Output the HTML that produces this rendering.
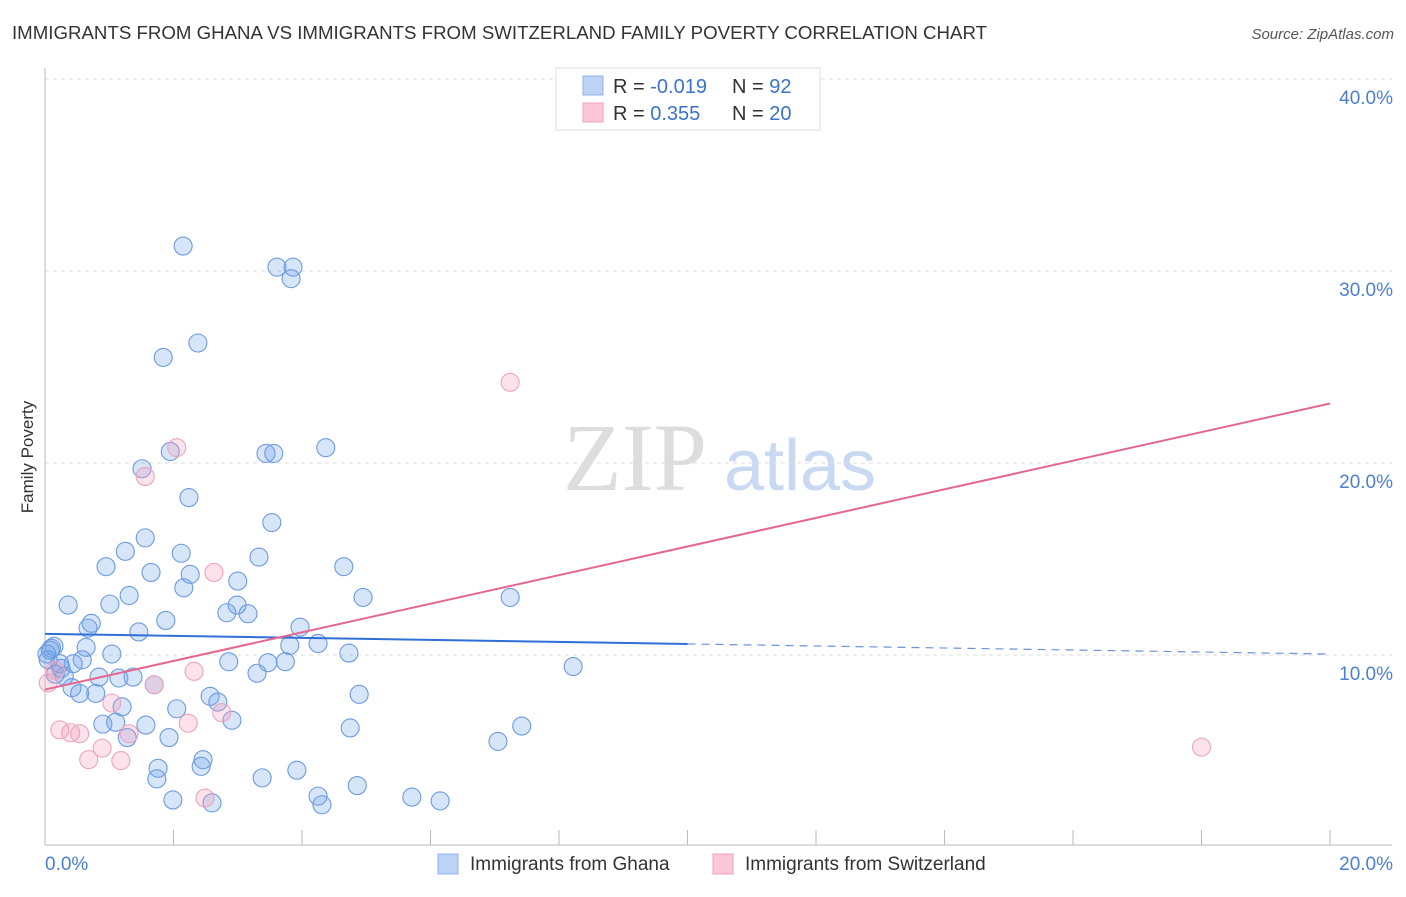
<!DOCTYPE html>
<html><head><meta charset="utf-8"><style>
body{margin:0;background:#fff;font-family:"Liberation Sans",sans-serif;}
svg text{font-family:"Liberation Sans",sans-serif;}
</style></head><body>
<svg width="1406" height="892" id="chart">
<text x="12" y="39" font-size="18" fill="#333" textLength="975" lengthAdjust="spacingAndGlyphs">IMMIGRANTS FROM GHANA VS IMMIGRANTS FROM SWITZERLAND FAMILY POVERTY CORRELATION CHART</text>
<text x="1394" y="39" font-size="15" fill="#555" font-style="italic" text-anchor="end">Source: ZipAtlas.com</text>
<text x="33" y="457" font-size="17" fill="#333" text-anchor="middle" transform="rotate(-90 33 457)">Family Poverty</text>
<g>
<text x="635" y="490" font-size="96" fill="#ddd" text-anchor="middle" font-family="Liberation Serif" style="font-family:'Liberation Serif',serif">ZIP</text>
<text x="800" y="490" font-size="72" fill="#c9d9f2" text-anchor="middle">atlas</text>
</g>
<g id="grid"></g><g id="axes"></g><g id="pts"></g><g id="trend"></g>
<g>
<rect x="556" y="68" width="264" height="62" fill="#fff" stroke="#ddd"/>
<rect x="583" y="76" width="20" height="19" fill="#bcd3f5" stroke="#8fb3ea"/>
<rect x="583" y="103" width="20" height="19" fill="#fcc8d8" stroke="#f0a0b9"/>
<text x="613" y="93" font-size="20" fill="#333">R = <tspan fill="#3a72d0">-0.019</tspan></text>
<text x="732" y="93" font-size="20" fill="#333">N = <tspan fill="#3a72d0">92</tspan></text>
<text x="613" y="120" font-size="20" fill="#333">R = <tspan fill="#3a72d0"> 0.355</tspan></text>
<text x="732" y="120" font-size="20" fill="#333">N = <tspan fill="#3a72d0">20</tspan></text>
</g>
<g>
<rect x="438" y="854" width="20" height="20" fill="#bcd3f5" stroke="#8fb3ea"/>
<text x="470" y="870" font-size="19" fill="#333">Immigrants from Ghana</text>
<rect x="713" y="854" width="20" height="20" fill="#fcc8d8" stroke="#f0a0b9"/>
<text x="745" y="870" font-size="19" fill="#333">Immigrants from Switzerland</text>
</g>
</svg>
<script>
const yTicks=[10,20,30,40];
const xTickVals=[0,2,4,6,8,10,12,14,16,18,20];
const xLabels=["0.0%","20.0%"];
const ghanaX=[2.15,3.61,3.86,3.83,1.84,2.38,1.51,1.95,3.44,3.56,4.37,2.24,3.53,1.56,1.25,2.12,3.33,0.95,4.65,1.65,2.26,3.0,1.31,2.16,4.95,7.24,0.36,1.01,2.99,3.16,2.83,1.88,0.72,0.67,3.97,1.46,4.25,3.81,0.14,0.08,0.64,4.73,1.04,0.03,0.58,0.44,0.25,2.86,3.47,3.74,3.3,8.22,0.3,0.84,1.15,1.37,0.42,0.54,0.79,1.7,2.57,4.89,2.69,1.2,2.05,0.9,1.1,2.91,1.57,4.75,7.42,1.28,1.93,7.05,2.46,2.43,1.76,3.92,3.38,1.74,4.86,1.99,2.6,4.25,4.31,5.71,6.15,0.16,0.23,0.05,0.1];
const ghanaY=[31.3,30.2,30.2,29.6,25.5,26.25,19.7,20.6,20.5,20.5,20.8,18.2,16.9,16.1,15.4,15.3,15.1,14.6,14.6,14.3,14.2,13.85,13.1,13.5,13.0,13.0,12.6,12.65,12.6,12.15,12.2,11.8,11.65,11.4,11.45,11.2,10.6,10.5,10.45,10.25,10.4,10.1,10.05,10.05,9.75,9.55,9.3,9.65,9.6,9.65,9.05,9.4,8.9,8.85,8.8,8.85,8.3,8.0,8.0,8.45,7.85,7.95,7.55,7.3,7.2,6.4,6.5,6.6,6.35,6.2,6.3,5.7,5.7,5.5,4.55,4.2,4.1,4.0,3.6,3.55,3.2,2.45,2.3,2.65,2.2,2.6,2.4,9.0,9.55,9.75,10.35];
const swissX=[7.24,2.05,1.56,2.63,1.7,2.32,1.04,1.31,2.23,2.75,0.23,0.4,0.54,0.89,0.68,1.18,2.49,18.0,0.05,0.16];
const swissY=[24.2,20.8,19.3,14.3,8.45,9.15,7.5,5.9,6.45,7.0,6.1,5.95,5.9,5.15,4.55,4.5,2.55,5.2,8.55,9.2];
const ghanaTrend=[11.1,10.05];
const swissTrend=[8.2,23.1];
const NS="http://www.w3.org/2000/svg";
const sx=v=>45+v/20*1285, sy=v=>847-v/10*192;
function mk(t,a,p){const e=document.createElementNS(NS,t);for(const k in a)e.setAttribute(k,a[k]);p.appendChild(e);return e;}
const grid=document.getElementById('grid'),axes=document.getElementById('axes'),pts=document.getElementById('pts'),tr=document.getElementById('trend');
yTicks.forEach(v=>{
 const l=mk('line',{x1:45,x2:1392,y1:sy(v),y2:sy(v),stroke:'#ddd','stroke-dasharray':'4,4'},grid);
 
 
 const t=mk('text',{x:1393,y:sy(v)+25,'font-size':19,fill:'#4a7fd4','text-anchor':'end'},grid);
 t.textContent=v.toFixed(1)+'%';
 
 
});
const ax=mk('line',{x1:45,x2:1392,y1:845,y2:845,stroke:'#bbb'},axes);


const ay=mk('line',{x1:45,x2:45,y1:68,y2:845,stroke:'#bbb'},axes);


xTickVals.forEach(v=>{
 const l=mk('line',{x1:sx(v),x2:sx(v),y1:830,y2:845,stroke:'#bbb'},axes);
 
 
});
[[0,xLabels[0],'start',45],[20,xLabels[1],'end',1393]].forEach(a=>{
 const t=mk('text',{x:a[3],y:870,'font-size':19,fill:'#4a7fd4','text-anchor':a[2]},axes);
 t.textContent=a[1];
 
 
});
function dots(X,Y,fill,stroke,name){X.forEach((x,i)=>{
 const c=mk('circle',{cx:sx(x),cy:sy(Y[i]),r:9,fill:fill,stroke:stroke,'stroke-width':1.1},pts);
 
 
});}
dots(ghanaX,ghanaY,'rgba(110,160,235,0.28)','#6b9be0','ghana-point');
dots(swissX,swissY,'rgba(245,150,180,0.28)','#eca3bd','switzerland-point');
const gm=ghanaTrend[0]+(ghanaTrend[1]-ghanaTrend[0])*0.5;
const l1=mk('line',{x1:sx(0),y1:sy(ghanaTrend[0]),x2:sx(10),y2:sy(gm),stroke:'#2f6fd6','stroke-width':2},tr);


const l2=mk('line',{x1:sx(10),y1:sy(gm),x2:sx(20),y2:sy(ghanaTrend[1]),stroke:'#6a94d8','stroke-width':1.2,'stroke-dasharray':'8,6'},tr);


const l3=mk('line',{x1:sx(0),y1:sy(swissTrend[0]),x2:sx(20),y2:sy(swissTrend[1]),stroke:'#e5678f','stroke-width':2},tr);


</script>
</body></html>
